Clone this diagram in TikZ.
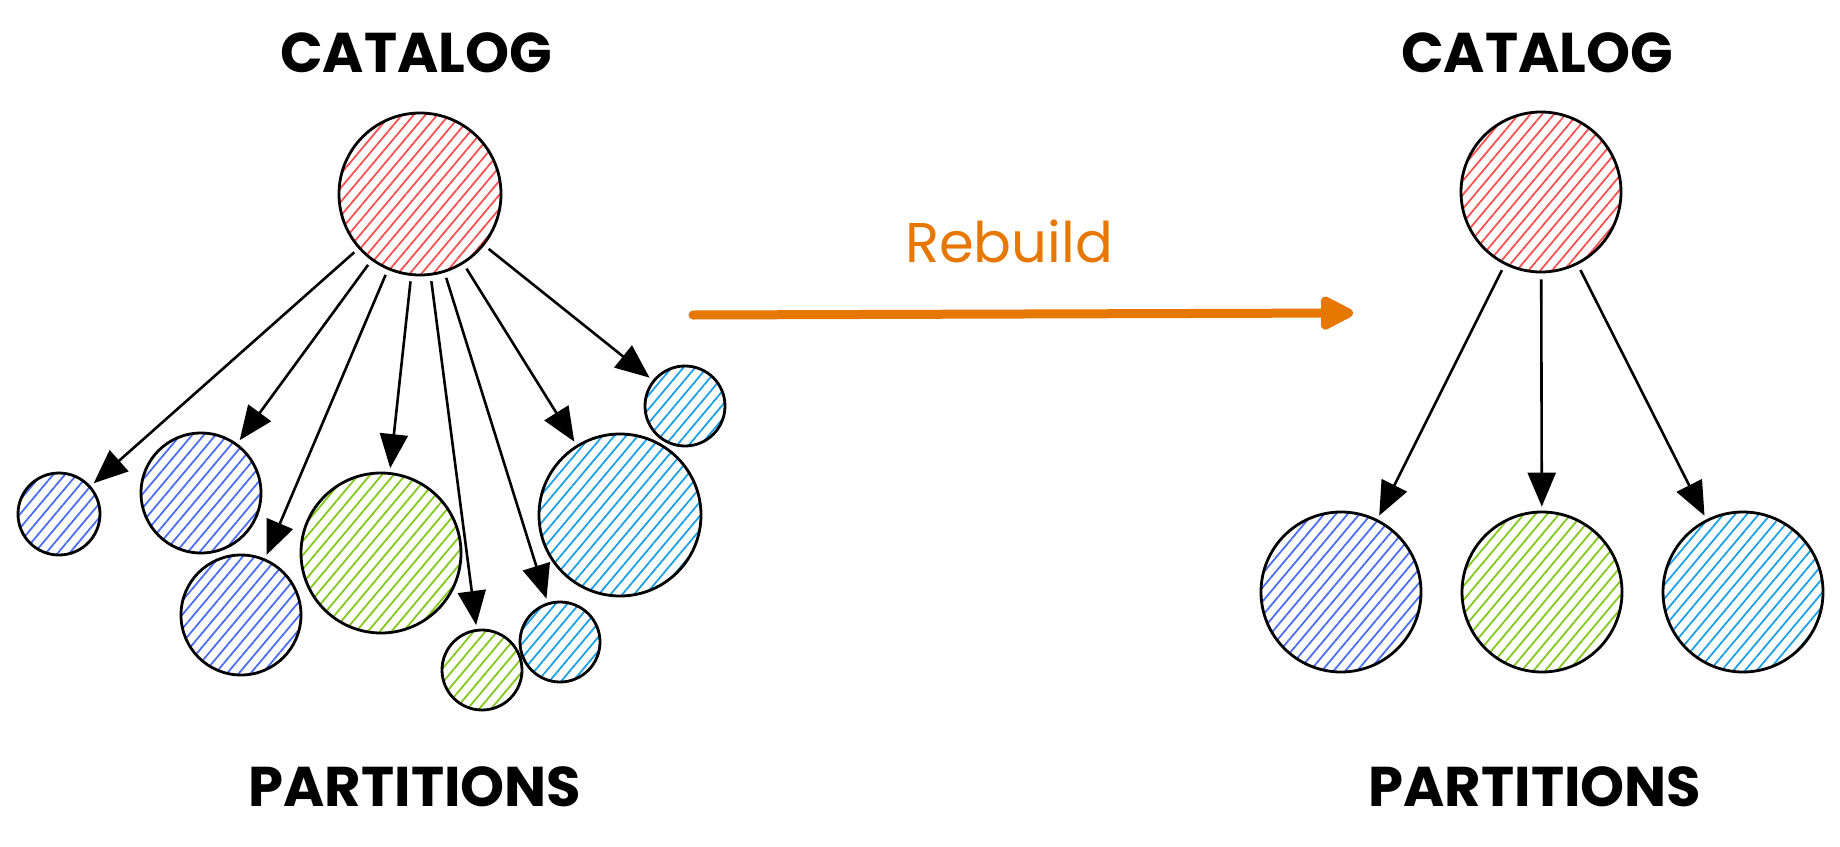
\documentclass[tikz,border=0pt]{standalone}
\usepackage{fontspec}
\setmainfont{Poppins}
\usetikzlibrary{arrows.meta,patterns.meta}
\definecolor{hatchred}{HTML}{FA5252}
\definecolor{hatchblue}{HTML}{4C6EF5}
\definecolor{hatchgreen}{HTML}{82C91E}
\definecolor{hatchcyan}{RGB}{30,160,230}
\definecolor{rebuildorange}{HTML}{E67700}
\tikzset{
	part/.style={circle, draw=black, line width=1.4pt, inner sep=0pt,
		pattern={Lines[angle=50,distance=4.5pt,line width=0.9pt]}, pattern color=#1},
	link/.style={-{Triangle[length=17pt,width=14pt]}, line width=1.3pt, shorten <=3pt, shorten >=2pt},
	title/.style={font=\fontsize{28}{32}\selectfont\bfseries, anchor=base},
	rebuild/.style={draw=rebuildorange, line width=4.5pt, line cap=round, -{Triangle[length=19pt,width=18pt,round]}},
}

\begin{document}
\begin{tikzpicture}[x=0.5pt,y=-0.5pt]
		\useasboundingbox (0,0) rectangle (1840,846);
		\node[title] (T1) at (416,72) {CATALOG};
		\node[title] (T2) at (415,806) {PARTITIONS};
		\node[title] (T3) at (1537,72) {CATALOG};
		\node[title] (T4) at (1535,806) {PARTITIONS};
		\node[part=hatchred, minimum size=81pt] (C) at (420,194) {};
		\node[part=hatchblue, minimum size=41pt] (P1) at (59,514) {};
		\node[part=hatchblue, minimum size=60pt] (P2) at (201,493) {};
		\node[part=hatchblue, minimum size=60pt] (P3) at (241,615) {};
		\node[part=hatchgreen, minimum size=80pt] (P4) at (381,553) {};
		\node[part=hatchgreen, minimum size=40pt] (P5) at (482,670) {};
		\node[part=hatchcyan, minimum size=40pt] (P6) at (560,642) {};
		\node[part=hatchcyan, minimum size=81pt] (P7) at (620,515) {};
		\node[part=hatchcyan, minimum size=40pt] (P8) at (685,406) {};
		\draw[link] (C) -- (P1);
		\draw[link] (C) -- (P2);
		\draw[link] (C) -- (P3);
		\draw[link] (C) -- (P4);
		\draw[link] (C) -- (P5);
		\draw[link] (C) -- (P6);
		\draw[link] (C) -- (P7);
		\draw[link] (C) -- (P8);
		\coordinate (R1) at (693,315);
		\coordinate (R2) at (1353,313);
		\draw[rebuild] (R1) -- (R2);
		\node[text=rebuildorange, font=\fontsize{28}{32}\selectfont, anchor=base] (L) at (1009,262) {Rebuild};
		\node[part=hatchred, minimum size=80pt] (D) at (1541,192) {};
		\node[part=hatchblue, minimum size=80pt] (Q1) at (1341,592) {};
		\node[part=hatchgreen, minimum size=80pt] (Q2) at (1542,592) {};
		\node[part=hatchcyan, minimum size=80pt] (Q3) at (1743,592) {};
		\draw[link] (D) -- (Q1);
		\draw[link] (D) -- (Q2);
		\draw[link] (D) -- (Q3);
	\end{tikzpicture}
\end{document}
